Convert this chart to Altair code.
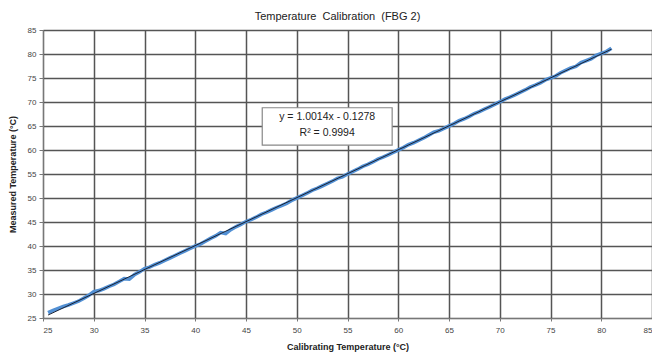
import altair as alt
import pandas as pd

calib_x = [25.5, 26.0, 26.5, 27.0, 27.5, 28.0, 28.5, 29.0, 29.5, 30.0,
           30.5, 31.0, 31.5, 32.0, 32.5, 33.0, 33.5, 34.0, 34.5, 35.0,
           35.5, 36.0, 36.5, 37.0, 37.5, 38.0, 38.5, 39.0, 39.5, 40.0,
           40.5, 41.0, 41.5, 42.0, 42.5, 43.0, 43.5, 44.0, 44.5, 45.0,
           45.5, 46.0, 46.5, 47.0, 47.5, 48.0, 48.5, 49.0, 49.5, 50.0,
           50.5, 51.0, 51.5, 52.0, 52.5, 53.0, 53.5, 54.0, 54.5, 55.0,
           55.5, 56.0, 56.5, 57.0, 57.5, 58.0, 58.5, 59.0, 59.5, 60.0,
           60.5, 61.0, 61.5, 62.0, 62.5, 63.0, 63.5, 64.0, 64.5, 65.0,
           65.5, 66.0, 66.5, 67.0, 67.5, 68.0, 68.5, 69.0, 69.5, 70.0,
           70.5, 71.0, 71.5, 72.0, 72.5, 73.0, 73.5, 74.0, 74.5, 75.0,
           75.5, 76.0, 76.5, 77.0, 77.5, 78.0, 78.5, 79.0, 79.5, 80.0,
           80.5, 81.0]
measured_y = [26.1, 26.6, 27.0, 27.4, 27.7, 28.1, 28.5, 29.1, 29.7, 30.5,
              30.7, 31.1, 31.6, 32.0, 32.6, 33.2, 33.1, 34.0, 34.6, 35.3,
              35.6, 36.1, 36.5, 37.0, 37.5, 38.0, 38.5, 39.0, 39.5, 40.0,
              40.4, 41.0, 41.6, 42.1, 42.8, 42.6, 43.4, 44.0, 44.5, 45.1,
              45.5, 46.0, 46.6, 47.0, 47.5, 48.0, 48.4, 48.9, 49.5, 50.0,
              50.5, 51.0, 51.6, 52.0, 52.5, 53.0, 53.5, 54.1, 54.4, 55.0,
              55.5, 56.0, 56.6, 57.0, 57.5, 58.1, 58.5, 59.0, 59.5, 60.0,
              60.5, 61.1, 61.5, 62.0, 62.5, 63.1, 63.7, 64.0, 64.5, 65.0,
              65.5, 66.1, 66.5, 67.0, 67.6, 68.0, 68.5, 69.0, 69.5, 70.0,
              70.6, 71.0, 71.5, 72.0, 72.5, 73.1, 73.5, 74.0, 74.6, 75.0,
              75.4, 76.1, 76.6, 77.1, 77.4, 78.2, 78.6, 79.0, 79.7, 80.1,
              80.5, 81.2]

x_ticks = [25, 30, 35, 40, 45, 50, 55, 60, 65, 70, 75, 80, 85]
y_ticks = [25, 30, 35, 40, 45, 50, 55, 60, 65, 70, 75, 80, 85]

eq_lines = ["y = 1.0014x - 0.1278", "R² = 0.9994"]
box_x = [46.6]
box_x2 = [59.4]
box_y = [68.8]
box_y2 = [61.0]
text_x = [53.0, 53.0]
text_y = [66.9, 63.6]

FONT = "Liberation Sans"

df = pd.DataFrame({"x": calib_x, "y": measured_y})

xscale = alt.Scale(domain=[25, 85], nice=False, zero=False)
yscale = alt.Scale(domain=[25, 85], nice=False, zero=False)

xaxis = alt.Axis(values=x_ticks, title="Calibrating Temperature (°C)",
                 titleFont=FONT, titleFontSize=9, titleFontWeight="bold",
                 titleColor="#222", titlePadding=8,
                 labelFont=FONT, labelFontSize=8, labelColor="#444",
                 labelOverlap=False,
                 grid=True, gridColor="#555", gridWidth=1.5,
                 domainColor="#777", tickColor="#777", tickSize=3, labelPadding=5)
yaxis = alt.Axis(values=y_ticks, title="Measured Temperature (°C)",
                 titleFont=FONT, titleFontSize=9, titleFontWeight="bold",
                 titleColor="#222", titlePadding=10,
                 labelFont=FONT, labelFontSize=8, labelColor="#444",
                 labelOverlap=False,
                 grid=True, gridColor="#555", gridWidth=1.5,
                 domainColor="#777", tickColor="#777", tickSize=4, labelPadding=3)

base = alt.Chart(df)

data_line = base.mark_line(color="#5290d4", strokeWidth=3.6, clip=True).encode(
    x=alt.X("x:Q", scale=xscale, axis=xaxis),
    y=alt.Y("y:Q", scale=yscale, axis=yaxis),
)

trend = base.transform_regression("x", "y").mark_line(
    color="#1b2233", strokeWidth=1.0
).encode(
    x=alt.X("x:Q", scale=xscale, axis=xaxis),
    y=alt.Y("y:Q", scale=yscale, axis=yaxis),
)

box_df = pd.DataFrame({"x": box_x, "x2": box_x2, "y": box_y, "y2": box_y2})
box = alt.Chart(box_df).mark_rect(fill="white", stroke="#888", strokeWidth=1.2).encode(
    x=alt.X("x:Q", scale=xscale, axis=xaxis), x2="x2:Q",
    y=alt.Y("y:Q", scale=yscale, axis=yaxis), y2="y2:Q",
)

txt_df = pd.DataFrame({"x": text_x, "y": text_y, "t": eq_lines})
txt = alt.Chart(txt_df).mark_text(font=FONT, fontSize=10.5, color="#222",
                                  align="center", baseline="middle").encode(
    x=alt.X("x:Q", scale=xscale, axis=xaxis),
    y=alt.Y("y:Q", scale=yscale, axis=yaxis),
    text="t:N",
)

chart = alt.layer(data_line, trend, box, txt).properties(
    width=609, height=288,
    title=alt.TitleParams("Temperature\u00a0\u00a0Calibration\u00a0\u00a0(FBG 2)",
                          font=FONT, fontSize=11,
                          fontWeight="normal", color="#222", anchor="middle",
                          offset=4, dx=-10),
    autosize=alt.AutoSizeParams(type="none"),
    padding={"left": 43, "top": 30, "right": 0, "bottom": 39},
).configure_view(stroke=None).configure_axis(labelOverlap=False).configure(background="white")

chart.save("out.html", embed_options={"renderer": "svg", "actions": False})
